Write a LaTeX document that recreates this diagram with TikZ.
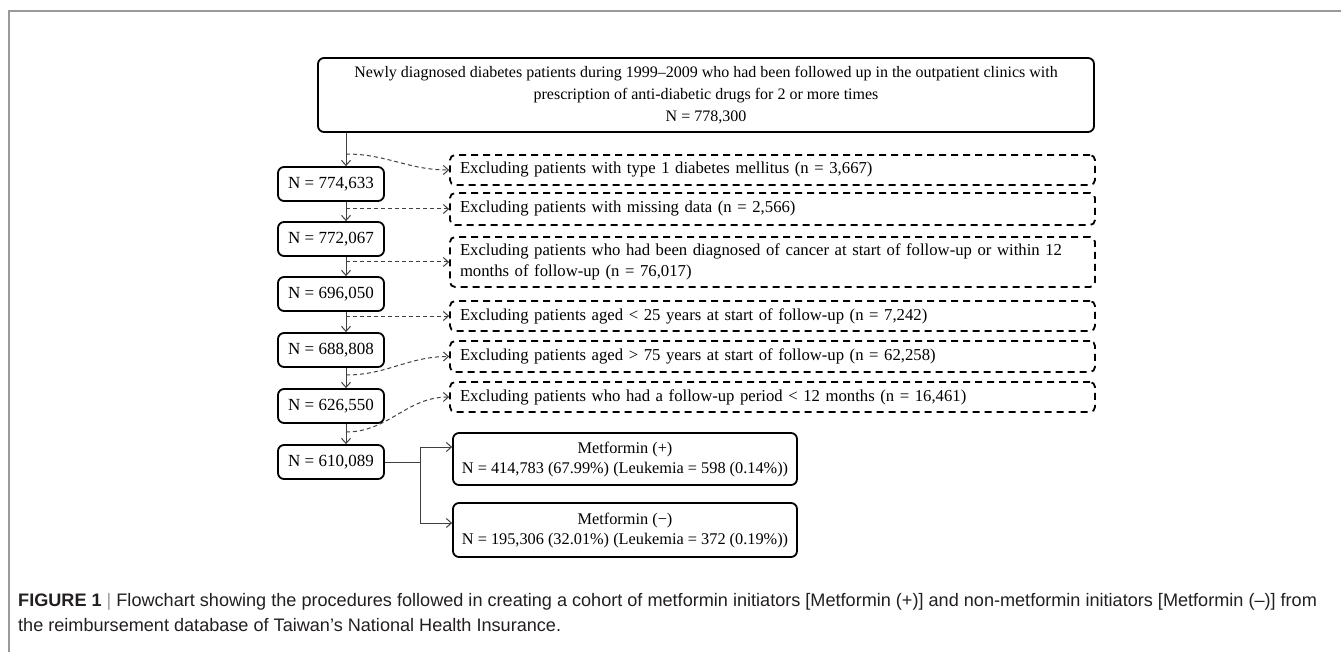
\documentclass[tikz,border=0pt]{standalone}
\usepackage{fontspec}
\setmainfont{Liberation Serif}
\newfontfamily\capfont{Liberation Sans}
\usetikzlibrary{arrows.meta,calc}
\definecolor{framegray}{HTML}{9A9A9A}
\definecolor{linegray}{HTML}{404040}
\definecolor{captext}{HTML}{231F20}
\begin{document}
\begin{tikzpicture}[x=1pt,y=-1pt,
  solidbox/.style={draw=black, line width=1.8pt, rounded corners=6pt, inner sep=0pt, align=center, font=\fontsize{16}{22}\selectfont},
  dbox/.style={draw=black, line width=1.8pt, dash pattern=on 7pt off 5pt, rounded corners=5pt, inner sep=0pt, minimum width=645pt, text width=625pt, align=left, font=\fontsize{16.7}{20.5}\selectfont},
  arr/.style={-{Straight Barb[length=5pt,width=9pt]}, line width=1pt, draw=linegray},
  dcon/.style={arr, dash pattern=on 4pt off 3pt}
]
\useasboundingbox (0,0) rectangle (1341,652);
\fill[white] (0,0) rectangle (1341,652);
% frame
\draw[framegray, line width=2pt] (9,652) -- (9,11) -- (1341,11);

% top box
\node[solidbox, minimum width=776pt, minimum height=74pt] (top) at (706,95)
  {Newly diagnosed diabetes patients during 1999–2009 who had been followed up in the outpatient clinics with\\
   prescription of anti-diabetic drugs for 2 or more times\\
   N = 778,300};

% count boxes
\tikzset{nbox/.style={solidbox, minimum width=106pt, minimum height=34pt, font=\fontsize{17}{20}\selectfont}}
\node[nbox] (n1) at (331,184) {N = 774,633};
\node[nbox] (n2) at (331,239) {N = 772,067};
\node[nbox] (n3) at (331,294) {N = 696,050};
\node[nbox] (n4) at (331,350) {N = 688,808};
\node[nbox] (n5) at (331,406) {N = 626,550};
\node[nbox] (n6) at (331,462) {N = 610,089};

% exclusion boxes
\node[dbox, minimum height=30pt] (e1) at (772.5,170) {Excluding patients with type 1 diabetes mellitus (n = 3,667)};
\node[dbox, minimum height=32pt] (e2) at (772.5,209) {Excluding patients with missing data (n = 2,566)};
\node[dbox, minimum height=50pt] (e3) at (772.5,262) {Excluding patients who had been diagnosed of cancer at start of follow-up or within 12\\months of follow-up (n = 76,017)};
\node[dbox, minimum height=30pt] (e4) at (772.5,316) {Excluding patients aged < 25 years at start of follow-up (n = 7,242)};
\node[dbox, minimum height=31pt] (e5) at (772.5,356.5) {Excluding patients aged > 75 years at start of follow-up (n = 62,258)};
\node[dbox, minimum height=30pt] (e6) at (772.5,397) {Excluding patients who had a follow-up period < 12 months (n = 16,461)};

% metformin boxes
\node[solidbox, minimum width=344pt, minimum height=52pt, font=\fontsize{16.3}{20}\selectfont] (mp) at (625,459)
  {Metformin (+)\\N = 414,783 (67.99\%) (Leukemia = 598 (0.14\%))};
\node[solidbox, minimum width=344pt, minimum height=54pt, font=\fontsize{16.3}{20}\selectfont] (mm) at (625,530)
  {Metformin (−)\\N = 195,306 (32.01\%) (Leukemia = 372 (0.19\%))};

% spine
\coordinate (spine) at (346,0);
\draw[arr] (top.south -| spine) -- (n1.north -| spine);
\draw[arr] (n1.south -| spine) -- (n2.north -| spine);
\draw[arr] (n2.south -| spine) -- (n3.north -| spine);
\draw[arr] (n3.south -| spine) -- (n4.north -| spine);
\draw[arr] (n4.south -| spine) -- (n5.north -| spine);
\draw[arr] (n5.south -| spine) -- (n6.north -| spine);

% dashed exclusion connectors
\coordinate (s1) at (346,154);
\coordinate (s5) at (346,375);
\coordinate (s6) at (346,432);
\draw[dcon] (s1) to[out=0,in=180] (e1.west);
\draw[dcon] (e2.west -| spine) -- (e2.west);
\draw[dcon] (e3.west -| spine) -- (e3.west);
\draw[dcon] (e4.west -| spine) -- (e4.west);
\draw[dcon] (s5) to[out=0,in=180] (e5.west);
\draw[dcon] (s6) to[out=0,in=180] (e6.west);

% branch
\coordinate (bj) at (420,462);
\coordinate (b1) at (420,447);
\coordinate (b2) at (420,523);
\draw[line width=1pt, draw=linegray] (n6.east) -- (bj);
\draw[line width=1pt, draw=linegray] (b1) -- (b2);
\draw[arr] (b1) -- (b1 -| mp.west);
\draw[arr] (b2) -- (b2 -| mm.west);

% caption
\node[anchor=base west, inner sep=0pt, font=\capfont\fontsize{18.1}{22}\selectfont, text=captext] (cap1) at (18,606)
  {\textbf{FIGURE 1} \textcolor{framegray}{|} Flowchart showing the procedures followed in creating a cohort of metformin initiators [Metformin (+)] and non-metformin initiators [Metformin (–)] from};
\node[anchor=base west, inner sep=0pt, font=\capfont\fontsize{18.1}{22}\selectfont, text=captext] (cap2) at (18,631)
  {the reimbursement database of Taiwan’s National Health Insurance.};
\end{tikzpicture}
\end{document}
